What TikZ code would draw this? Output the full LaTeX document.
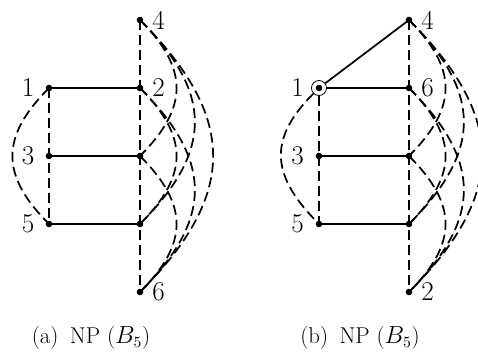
\documentclass[tikz,border=0pt]{standalone}
\usepackage{fontspec}
\usetikzlibrary{positioning}
\begin{document}
\begin{tikzpicture}[x=0.7pt,y=-0.7pt,
  vtx/.style={circle,fill,inner sep=0pt,minimum size=4.6pt},
  lab/.style={inner sep=0pt,font=\fontsize{19}{22}\selectfont},
  captxt/.style={font=\fontsize{16}{19}\selectfont},
  edge/.style={line width=1.2pt},
  dedge/.style={line width=1.2pt,dash pattern=on 7pt off 3.5pt},
  rarc/.style={dedge,out=-45,in=45,looseness=1.3},
  larc/.style={dedge,out=-135,in=135,looseness=1.3}]
  \useasboundingbox (0,0) rectangle (478,356);
  % (a)
  \coordinate (a1) at (49,88);
  \coordinate (a3) at (49,156);
  \coordinate (a5) at (49,224);
  \coordinate (a4) at (140,20);
  \coordinate (a2) at (140,88);
  \coordinate (a3p) at (140,156);
  \coordinate (a5p) at (140,224);
  \coordinate (a6) at (140,292);
  \draw[edge] (a1) -- (a2);
  \draw[edge] (a3) -- (a3p);
  \draw[edge] (a5) -- (a5p);
  \draw[dedge] (a1) -- (a5);
  \draw[dedge] (a4) -- (a6);
  \draw[larc] (a1) to (a5);
  \foreach \u/\v in {a4/a3p, a4/a5p, a4/a6, a2/a5p, a2/a6, a3p/a6}
    \draw[rarc] (\u) to (\v);
  \foreach \p in {a1,a3,a5,a4,a2,a3p,a5p,a6}
    \node[vtx] at (\p) {};
  \node[lab,left=10pt of a1] (la1) {1};
  \node[lab,left=10pt of a3] (la3) {3};
  \node[lab,left=10pt of a5] (la5) {5};
  \node[lab,right=8.5pt of a4] (la4) {4};
  \node[lab,right=8.5pt of a2] (la2) {2};
  \node[lab,right=8.5pt of a6] (la6) {6};
  \node[captxt] (capa) at (91,338) {(a)\enspace NP ($B_5$)};
  % (b)
  \coordinate (b1) at (319,88);
  \coordinate (b3) at (319,156);
  \coordinate (b5) at (319,224);
  \coordinate (b4) at (409,20);
  \coordinate (b6) at (409,88);
  \coordinate (b3p) at (409,156);
  \coordinate (b5p) at (409,224);
  \coordinate (b2) at (409,292);
  \node[circle,draw,fill=white,line width=0.6pt,inner sep=0pt,minimum size=10.5pt] (mark) at (b1) {};
  \draw[edge] (mark) -- (b4);
  \draw[edge] (mark) -- (b6);
  \draw[edge] (b3) -- (b3p);
  \draw[edge] (b5) -- (b5p);
  \draw[dedge] (mark) -- (b5);
  \draw[dedge] (b4) -- (b2);
  \draw[larc] (mark) to (b5);
  \foreach \u/\v in {b4/b3p, b4/b5p, b4/b2, b6/b5p, b6/b2, b3p/b2}
    \draw[rarc] (\u) to (\v);
  \foreach \p in {b1,b3,b5,b4,b6,b3p,b5p,b2}
    \node[vtx] at (\p) {};
  \node[lab,left=10.5pt of b1] (lb1) {1};
  \node[lab,left=10.5pt of b3] (lb3) {3};
  \node[lab,left=10.5pt of b5] (lb5) {5};
  \node[lab,right=8.5pt of b4] (lb4) {4};
  \node[lab,right=8.5pt of b6] (lb6) {6};
  \node[lab,right=8.5pt of b2] (lb2) {2};
  \node[captxt] (capb) at (360,338) {(b)\enspace NP ($B_5$)};
\end{tikzpicture}
\end{document}
